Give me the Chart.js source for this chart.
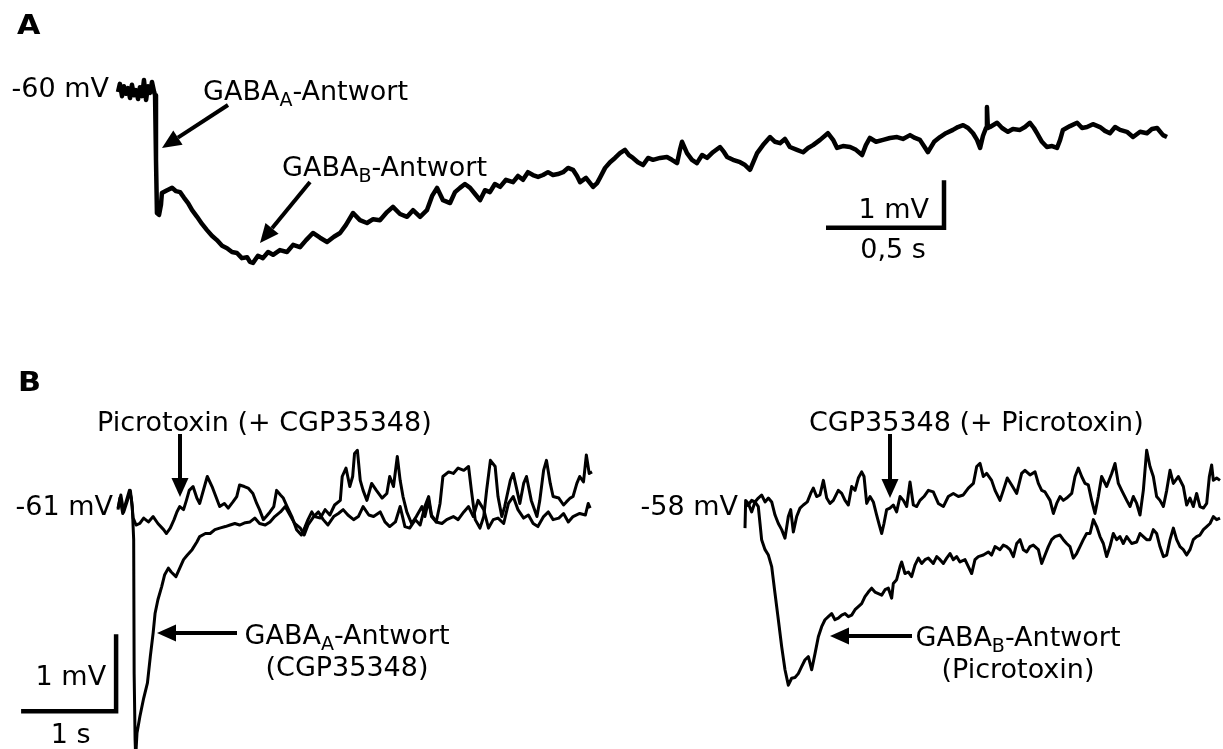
<!DOCTYPE html>
<html>
<head>
<meta charset="utf-8">
<script src="https://cdn.jsdelivr.net/npm/chart.js@4.4.1/dist/chart.umd.min.js"></script>
<style>
  html, body { margin: 0; padding: 0; background: #fff; overflow: hidden; }
  #wrap { position: relative; width: 1223px; height: 749px; }
</style>
</head>
<body>
<div id="wrap"><canvas id="traces" width="1223" height="749"></canvas></div>
<script>
// Membranpotential-Spuren: [Zeit in s, Potential in mV]

// A: GABA-Antwort ohne Blocker
var traceA = [
  [0,-60.04],[0.008,-59.87],[0.017,-60.13],[0.025,-59.92],[0.034,-60.08],[0.042,-59.96],[0.051,-60.17],[0.059,-59.89],
  [0.068,-60.11],[0.076,-60.00],[0.085,-60.19],[0.093,-59.94],[0.102,-60.13],[0.110,-59.79],[0.119,-60.21],[0.127,-59.92],
  [0.136,-60.06],[0.144,-59.83],[0.153,-60.04],[0.157,-60.11],[0.161,-61.47],[0.165,-62.59],[0.174,-62.63],[0.182,-62.42],
  [0.186,-62.17],[0.208,-62.11],[0.229,-62.06],[0.246,-62.13],[0.263,-62.15],[0.280,-62.27],[0.297,-62.38],[0.314,-62.53],
  [0.335,-62.67],[0.356,-62.82],[0.377,-62.95],[0.398,-63.07],[0.419,-63.16],[0.441,-63.28],[0.462,-63.33],[0.483,-63.41],
  [0.504,-63.43],[0.525,-63.54],[0.547,-63.52],[0.559,-63.62],[0.572,-63.64],[0.593,-63.49],[0.614,-63.54],[0.636,-63.41],
  [0.657,-63.47],[0.686,-63.37],[0.716,-63.41],[0.742,-63.26],[0.771,-63.31],[0.797,-63.16],[0.826,-63.01],[0.856,-63.11],
  [0.886,-63.20],[0.915,-63.09],[0.941,-63.01],[0.966,-62.84],[0.996,-62.59],[1.025,-62.74],[1.055,-62.80],[1.081,-62.72],
  [1.110,-62.74],[1.140,-62.57],[1.165,-62.46],[1.195,-62.61],[1.225,-62.67],[1.250,-62.53],[1.280,-62.67],[1.309,-62.53],
  [1.331,-62.23],[1.352,-62.06],[1.377,-62.32],[1.407,-62.38],[1.428,-62.15],[1.449,-62.06],[1.470,-61.98],[1.492,-62.06],
  [1.513,-62.19],[1.534,-62.32],[1.555,-62.11],[1.576,-62.15],[1.597,-61.98],[1.619,-62.04],[1.644,-61.89],[1.674,-61.94],
  [1.695,-61.81],[1.716,-61.89],[1.737,-61.73],[1.758,-61.79],[1.780,-61.83],[1.801,-61.79],[1.822,-61.73],[1.843,-61.79],
  [1.864,-61.77],[1.886,-61.73],[1.907,-61.64],[1.928,-61.68],[1.945,-61.81],[1.958,-61.94],[1.983,-61.85],[2.013,-62.04],
  [2.030,-61.96],[2.042,-61.85],[2.064,-61.64],[2.085,-61.52],[2.106,-61.43],[2.127,-61.33],[2.148,-61.26],[2.165,-61.37],
  [2.182,-61.43],[2.203,-61.52],[2.225,-61.58],[2.246,-61.43],[2.267,-61.47],[2.297,-61.43],[2.326,-61.41],[2.347,-61.47],
  [2.369,-61.54],[2.381,-61.26],[2.390,-61.09],[2.411,-61.33],[2.432,-61.47],[2.453,-61.54],[2.475,-61.37],[2.496,-61.43],
  [2.521,-61.31],[2.551,-61.20],[2.568,-61.31],[2.581,-61.41],[2.606,-61.47],[2.636,-61.52],[2.657,-61.58],[2.678,-61.68],
  [2.708,-61.33],[2.733,-61.16],[2.763,-60.99],[2.784,-61.09],[2.805,-61.12],[2.826,-61.03],[2.847,-61.20],[2.877,-61.26],
  [2.903,-61.31],[2.924,-61.22],[2.945,-61.16],[2.975,-61.05],[3.008,-60.91],[3.030,-61.05],[3.047,-61.22],[3.072,-61.18],
  [3.102,-61.20],[3.127,-61.26],[3.153,-61.37],[3.169,-61.16],[3.186,-61.01],[3.212,-61.09],[3.242,-61.05],[3.271,-61.01],
  [3.301,-60.99],[3.326,-61.03],[3.356,-60.95],[3.377,-61.01],[3.398,-61.05],[3.415,-61.18],[3.432,-61.31],[3.458,-61.09],
  [3.483,-60.99],[3.508,-60.91],[3.538,-60.84],[3.559,-60.78],[3.581,-60.74],[3.602,-60.80],[3.623,-60.91],[3.640,-61.05],
  [3.653,-61.22],[3.665,-60.97],[3.678,-60.80],[3.682,-60.36],[3.686,-60.80],[3.695,-60.78],[3.725,-60.69],[3.746,-60.80],
  [3.771,-60.88],[3.792,-60.82],[3.822,-60.84],[3.843,-60.78],[3.864,-60.69],[3.881,-60.80],[3.894,-60.91],[3.915,-61.09],
  [3.936,-61.20],[3.958,-61.18],[3.979,-61.22],[3.992,-61.05],[4.004,-60.84],[4.034,-60.76],[4.064,-60.69],[4.085,-60.80],
  [4.106,-60.78],[4.131,-60.72],[4.161,-60.78],[4.182,-60.86],[4.203,-60.91],[4.225,-60.78],[4.246,-60.84],[4.275,-60.88],
  [4.301,-60.99],[4.331,-60.88],[4.360,-60.91],[4.381,-60.82],[4.403,-60.80],[4.428,-60.95],[4.445,-60.99]
];

// B links: Picrotoxin (+ CGP35348)
var tracePicro = [
  [0.00,-61.06],[0.02,-60.91],[0.05,-61.11],[0.08,-60.98],[0.12,-60.81],[0.14,-60.91],[0.16,-61.17],[0.19,-61.26],
  [0.23,-61.24],[0.27,-61.17],[0.32,-61.22],[0.37,-61.15],[0.42,-61.24],[0.48,-61.32],[0.51,-61.37],[0.55,-61.30],
  [0.59,-61.19],[0.62,-61.09],[0.65,-61.02],[0.69,-61.06],[0.72,-60.94],[0.75,-60.81],[0.79,-60.76],[0.83,-60.91],
  [0.86,-60.98],[0.91,-60.76],[0.94,-60.63],[0.99,-60.76],[1.03,-60.89],[1.07,-61.02],[1.12,-60.98],[1.16,-61.04],
  [1.21,-60.96],[1.25,-60.89],[1.28,-60.74],[1.33,-60.76],[1.37,-60.78],[1.42,-60.85],[1.46,-60.98],[1.49,-61.06],
  [1.53,-61.19],[1.56,-61.15],[1.60,-61.09],[1.64,-61.02],[1.67,-60.81],[1.71,-60.87],[1.74,-60.91],[1.78,-61.02],
  [1.83,-61.15],[1.88,-61.32],[1.93,-61.39],[1.97,-61.28],[2.00,-61.19],[2.04,-61.09],[2.07,-61.15],[2.13,-61.17],
  [2.18,-61.06],[2.23,-61.13],[2.28,-61.00],[2.34,-60.94],[2.36,-60.63],[2.40,-60.52],[2.44,-60.76],[2.47,-60.63],
  [2.49,-60.33],[2.52,-60.29],[2.55,-60.68],[2.58,-60.81],[2.62,-60.94],[2.67,-60.72],[2.72,-60.81],[2.78,-60.91],
  [2.83,-60.85],[2.86,-60.63],[2.90,-60.76],[2.94,-60.37],[2.97,-60.68],[3.00,-60.89],[3.04,-61.09],[3.09,-61.24],
  [3.14,-61.15],[3.20,-61.02],[3.23,-61.15],[3.27,-60.94],[3.30,-61.15],[3.35,-61.22],[3.39,-60.98],[3.42,-60.63],
  [3.48,-60.57],[3.53,-60.59],[3.58,-60.52],[3.64,-60.55],[3.69,-60.50],[3.72,-60.81],[3.76,-61.19],[3.81,-61.30],
  [3.85,-61.15],[3.88,-60.81],[3.92,-60.42],[3.97,-60.50],[4.00,-60.89],[4.04,-61.15],[4.07,-61.02],[4.13,-60.68],
  [4.16,-60.59],[4.20,-60.81],[4.23,-60.98],[4.27,-60.72],[4.30,-60.63],[4.35,-60.94],[4.41,-61.15],[4.44,-60.94],
  [4.48,-60.55],[4.51,-60.42],[4.55,-60.72],[4.58,-60.89],[4.64,-60.91],[4.69,-61.00],[4.72,-60.96],[4.76,-60.91],
  [4.79,-60.89],[4.83,-60.72],[4.86,-60.63],[4.90,-60.70],[4.93,-60.35],[4.96,-60.59],[4.99,-60.57]
];

// B links: GABA_A-Antwort (CGP35348)
var traceGabaA = [
  [0.00,-61.04],[0.03,-60.87],[0.06,-61.09],[0.10,-60.94],[0.13,-60.81],[0.15,-61.02],[0.165,-61.45],[0.17,-63.19],
  [0.18,-64.05],[0.186,-64.27],[0.20,-63.96],[0.23,-63.75],[0.27,-63.51],[0.31,-63.31],[0.34,-62.97],[0.37,-62.66],
  [0.39,-62.41],[0.42,-62.23],[0.46,-62.06],[0.49,-61.91],[0.53,-61.82],[0.56,-61.87],[0.61,-61.93],[0.65,-61.82],
  [0.69,-61.71],[0.73,-61.65],[0.78,-61.58],[0.83,-61.48],[0.86,-61.41],[0.92,-61.37],[0.97,-61.37],[1.02,-61.32],
  [1.07,-61.30],[1.13,-61.28],[1.18,-61.26],[1.23,-61.24],[1.28,-61.26],[1.34,-61.23],[1.39,-61.22],[1.44,-61.17],
  [1.49,-61.24],[1.55,-61.26],[1.60,-61.22],[1.65,-61.15],[1.71,-61.09],[1.76,-61.02],[1.81,-61.13],[1.86,-61.24],
  [1.92,-61.30],[1.96,-61.39],[2.00,-61.26],[2.06,-61.15],[2.11,-61.09],[2.16,-61.19],[2.21,-61.26],[2.27,-61.15],
  [2.32,-61.11],[2.37,-61.06],[2.42,-61.13],[2.48,-61.19],[2.53,-61.15],[2.58,-61.02],[2.64,-61.13],[2.69,-61.15],
  [2.76,-61.09],[2.81,-61.22],[2.86,-61.28],[2.92,-61.22],[2.97,-61.02],[3.02,-61.28],[3.07,-61.30],[3.13,-61.19],
  [3.18,-61.26],[3.23,-61.02],[3.27,-60.89],[3.30,-61.13],[3.35,-61.22],[3.41,-61.24],[3.46,-61.19],[3.53,-61.15],
  [3.58,-61.19],[3.64,-61.09],[3.69,-61.02],[3.74,-61.15],[3.79,-60.94],[3.85,-61.06],[3.90,-61.30],[3.95,-61.19],
  [4.00,-61.17],[4.06,-61.24],[4.11,-60.98],[4.16,-60.89],[4.21,-61.06],[4.27,-61.17],[4.32,-61.13],[4.37,-61.24],
  [4.42,-61.28],[4.48,-61.15],[4.53,-61.09],[4.58,-61.19],[4.64,-61.17],[4.69,-61.11],[4.74,-61.22],[4.79,-61.15],
  [4.86,-61.11],[4.92,-61.13],[4.95,-60.98],[4.97,-61.04]
];

// B rechts: CGP35348 (+ Picrotoxin)
var traceCgp = [
  [0.000,-58.30],[0.007,-57.94],[0.035,-57.98],[0.070,-58.09],[0.105,-57.96],[0.140,-57.91],[0.175,-57.87],[0.211,-57.96],
  [0.246,-57.91],[0.281,-57.96],[0.316,-58.13],[0.351,-58.24],[0.386,-58.32],[0.421,-58.43],[0.456,-58.15],[0.481,-58.06],
  [0.509,-58.35],[0.544,-58.15],[0.579,-58.04],[0.614,-58.00],[0.656,-57.96],[0.691,-57.85],[0.719,-57.78],[0.754,-57.89],
  [0.789,-57.87],[0.825,-57.68],[0.860,-57.91],[0.895,-57.98],[0.930,-57.94],[0.982,-57.81],[1.018,-57.85],[1.053,-57.94],
  [1.088,-58.00],[1.123,-57.76],[1.158,-57.81],[1.193,-57.65],[1.228,-57.57],[1.253,-57.63],[1.281,-57.98],[1.316,-57.89],
  [1.351,-57.96],[1.386,-58.13],[1.414,-58.26],[1.439,-58.37],[1.463,-58.24],[1.491,-58.06],[1.526,-58.04],[1.561,-58.00],
  [1.596,-58.09],[1.632,-57.89],[1.667,-57.94],[1.702,-58.02],[1.737,-57.70],[1.772,-58.00],[1.807,-58.02],[1.842,-57.94],
  [1.884,-57.89],[1.930,-57.81],[1.982,-57.83],[2.035,-57.98],[2.088,-58.02],[2.140,-57.89],[2.193,-57.85],[2.246,-57.89],
  [2.298,-57.87],[2.351,-57.78],[2.404,-57.72],[2.439,-57.50],[2.474,-57.46],[2.509,-57.63],[2.544,-57.59],[2.596,-57.68],
  [2.632,-57.81],[2.684,-57.94],[2.719,-57.81],[2.761,-57.65],[2.807,-57.74],[2.860,-57.85],[2.912,-57.59],[2.947,-57.55],
  [3.000,-57.61],[3.053,-57.57],[3.088,-57.72],[3.123,-57.81],[3.158,-57.83],[3.211,-57.94],[3.246,-58.11],[3.281,-57.98],
  [3.316,-57.89],[3.351,-57.94],[3.386,-57.91],[3.439,-57.85],[3.474,-57.63],[3.509,-57.52],[3.544,-57.63],[3.579,-57.72],
  [3.614,-57.74],[3.649,-57.94],[3.684,-58.11],[3.719,-57.89],[3.754,-57.63],[3.807,-57.76],[3.860,-57.59],[3.895,-57.46],
  [3.930,-57.72],[3.965,-57.81],[4.018,-57.94],[4.053,-58.02],[4.088,-57.89],[4.123,-57.98],[4.158,-58.13],[4.193,-57.81],
  [4.228,-57.29],[4.263,-57.50],[4.298,-57.63],[4.333,-57.89],[4.368,-57.94],[4.404,-58.02],[4.439,-57.81],[4.474,-57.55],
  [4.509,-57.72],[4.561,-57.63],[4.614,-57.76],[4.649,-58.00],[4.684,-57.91],[4.719,-58.02],[4.754,-57.85],[4.789,-58.02],
  [4.825,-58.04],[4.860,-57.98],[4.888,-57.63],[4.912,-57.48],[4.930,-57.68],[4.965,-57.65],[5.000,-57.68]
];

// B rechts: GABA_B-Antwort (Picrotoxin)
var traceGabaB = [
  [0.000,-58.02],[0.035,-58.00],[0.070,-57.94],[0.105,-57.96],[0.140,-58.02],[0.158,-58.24],[0.175,-58.45],[0.211,-58.58],
  [0.246,-58.65],[0.281,-58.80],[0.316,-59.15],[0.351,-59.49],[0.386,-59.84],[0.421,-60.14],[0.456,-60.34],[0.491,-60.25],
  [0.526,-60.24],[0.561,-60.19],[0.596,-60.10],[0.632,-60.01],[0.667,-59.97],[0.702,-60.14],[0.737,-59.93],[0.772,-59.71],
  [0.807,-59.58],[0.842,-59.49],[0.877,-59.45],[0.912,-59.41],[0.947,-59.49],[0.982,-59.47],[1.018,-59.43],[1.053,-59.41],
  [1.088,-59.45],[1.123,-59.43],[1.158,-59.36],[1.193,-59.32],[1.228,-59.28],[1.263,-59.19],[1.298,-59.13],[1.333,-59.08],
  [1.368,-59.13],[1.404,-59.15],[1.439,-59.17],[1.474,-59.10],[1.509,-59.08],[1.544,-59.21],[1.561,-59.02],[1.596,-58.97],
  [1.632,-58.80],[1.649,-58.74],[1.684,-58.89],[1.719,-58.87],[1.754,-58.93],[1.789,-58.78],[1.825,-58.69],[1.860,-58.76],
  [1.895,-58.71],[1.930,-58.69],[1.982,-58.76],[2.018,-58.67],[2.053,-58.71],[2.088,-58.76],[2.123,-58.69],[2.158,-58.63],
  [2.193,-58.71],[2.228,-58.67],[2.263,-58.74],[2.316,-58.71],[2.351,-58.80],[2.386,-58.89],[2.421,-58.71],[2.456,-58.67],
  [2.509,-58.65],[2.561,-58.61],[2.596,-58.65],[2.632,-58.54],[2.684,-58.58],[2.719,-58.52],[2.754,-58.54],[2.789,-58.58],
  [2.825,-58.67],[2.860,-58.50],[2.895,-58.45],[2.930,-58.58],[2.965,-58.61],[3.000,-58.54],[3.035,-58.52],[3.088,-58.58],
  [3.123,-58.76],[3.158,-58.65],[3.193,-58.54],[3.228,-58.45],[3.263,-58.41],[3.316,-58.39],[3.351,-58.45],[3.386,-58.50],
  [3.421,-58.54],[3.456,-58.69],[3.491,-58.63],[3.526,-58.54],[3.561,-58.45],[3.596,-58.37],[3.632,-58.37],[3.667,-58.19],
  [3.702,-58.28],[3.737,-58.41],[3.772,-58.50],[3.807,-58.67],[3.842,-58.54],[3.877,-58.37],[3.912,-58.45],[3.947,-58.41],
  [3.982,-58.50],[4.018,-58.41],[4.070,-58.50],[4.123,-58.48],[4.158,-58.37],[4.193,-58.41],[4.228,-58.45],[4.263,-58.45],
  [4.298,-58.32],[4.333,-58.37],[4.368,-58.54],[4.404,-58.67],[4.439,-58.65],[4.474,-58.45],[4.509,-58.30],[4.544,-58.45],
  [4.579,-58.54],[4.614,-58.58],[4.649,-58.65],[4.684,-58.58],[4.719,-58.45],[4.754,-58.41],[4.789,-58.39],[4.825,-58.32],
  [4.860,-58.28],[4.895,-58.24],[4.930,-58.15],[4.965,-58.19],[5.000,-58.17]
];

var FONT = '"DejaVu Sans", Verdana, sans-serif';

function trace(points, xId, yId, width) {
  return {
    data: points.map(function (p) { return { x: p[0], y: p[1] }; }),
    xAxisID: xId,
    yAxisID: yId,
    showLine: true,
    borderColor: '#000',
    borderWidth: width,
    borderJoinStyle: 'round',
    pointRadius: 0,
    fill: false,
    tension: 0
  };
}

function hidden(axis, min, max) {
  return { type: 'linear', axis: axis, display: false, min: min, max: max };
}

// Text mit tiefgestelltem Teil, parts = [[text, tief?], ...]
function subText(ctx, parts, x, cy, align) {
  var big = '27px ' + FONT, small = '19px ' + FONT, w = 0;
  parts.forEach(function (p) { ctx.font = p[1] ? small : big; w += ctx.measureText(p[0]).width; });
  var cx = align === 'center' ? x - w / 2 : (align === 'right' ? x - w : x);
  var base = cy + 10;
  ctx.textAlign = 'left';
  ctx.textBaseline = 'alphabetic';
  parts.forEach(function (p) {
    ctx.font = p[1] ? small : big;
    ctx.fillText(p[0], cx, p[1] ? base + 6 : base);
    cx += ctx.measureText(p[0]).width;
  });
}

function text(ctx, s, x, cy, align) {
  subText(ctx, [[s, false]], x, cy, align);
}

function arrow(ctx, x1, y1, x2, y2) {
  var a = Math.atan2(y2 - y1, x2 - x1), len = 19, hw = 8.5;
  var bx = x2 - len * Math.cos(a), by = y2 - len * Math.sin(a);
  ctx.lineWidth = 4;
  ctx.lineCap = 'butt';
  ctx.beginPath();
  ctx.moveTo(x1, y1);
  ctx.lineTo(bx, by);
  ctx.stroke();
  ctx.beginPath();
  ctx.moveTo(x2, y2);
  ctx.lineTo(bx - hw * Math.sin(a), by + hw * Math.cos(a));
  ctx.lineTo(bx + hw * Math.sin(a), by - hw * Math.cos(a));
  ctx.closePath();
  ctx.fill();
}

// Eichbalken: Ecke bei (t, v), nach links dt Sekunden, nach oben dv mV
function scaleBar(ctx, xs, ys, t, v, dt, dv) {
  var xL = xs.getPixelForValue(t - dt), xR = xs.getPixelForValue(t);
  var yB = ys.getPixelForValue(v), yT = ys.getPixelForValue(v + dv);
  ctx.lineWidth = 4.5;
  ctx.lineCap = 'butt';
  ctx.lineJoin = 'miter';
  ctx.beginPath();
  ctx.moveTo(xL, yB);
  ctx.lineTo(xR, yB);
  ctx.lineTo(xR, yT);
  ctx.stroke();
  return { xL: xL, xR: xR, yB: yB, yT: yT };
}

function panelLetter(ctx, s, x, base) {
  ctx.save();
  ctx.font = 'bold 27px ' + FONT;
  ctx.textAlign = 'left';
  ctx.textBaseline = 'alphabetic';
  ctx.translate(x, base);
  ctx.scale(1.12, 1);
  ctx.fillText(s, 0, 0);
  ctx.restore();
}

var labels = {
  id: 'labels',
  afterDraw: function (chart) {
    var ctx = chart.ctx, s = chart.scales;
    ctx.save();
    ctx.fillStyle = '#000';
    ctx.strokeStyle = '#000';

    panelLetter(ctx, 'A', 17, 34);
    panelLetter(ctx, 'B', 18, 391);

    // A
    text(ctx, '-60 mV', 109, 87, 'right');
    subText(ctx, [['GABA', false], ['A', true], ['-Antwort', false]], 203, 90, 'left');
    subText(ctx, [['GABA', false], ['B', true], ['-Antwort', false]], 282, 166, 'left');
    arrow(ctx, 228, 105, 162, 148);
    arrow(ctx, 310, 182, 260, 243);
    var barA = scaleBar(ctx, s.xA, s.yA, 3.5, -62.9, 0.5, 1);
    text(ctx, '1 mV', barA.xR - 15, barA.yB - 20, 'right');
    text(ctx, '0,5 s', (barA.xL + barA.xR) / 2 + 8, barA.yB + 20, 'center');

    // B links
    text(ctx, 'Picrotoxin (+ CGP35348)', 97, 421, 'left');
    arrow(ctx, 180, 434, 180, 497);
    text(ctx, '-61 mV', 113, 505, 'right');
    subText(ctx, [['GABA', false], ['A', true], ['-Antwort', false]], 347, 634, 'center');
    text(ctx, '(CGP35348)', 347, 666, 'center');
    arrow(ctx, 237, 633, 157, 633);
    var barB = scaleBar(ctx, s.xBL, s.yBL, -0.02, -63.68, 1, 1);
    text(ctx, '1 mV', barB.xR - 10, (barB.yB + barB.yT) / 2 + 2, 'right');
    text(ctx, '1 s', (barB.xL + barB.xR) / 2 + 2, barB.yB + 22, 'center');

    // B rechts
    text(ctx, 'CGP35348 (+ Picrotoxin)', 809, 421, 'left');
    arrow(ctx, 890, 434, 890, 498);
    text(ctx, '-58 mV', 738, 505, 'right');
    subText(ctx, [['GABA', false], ['B', true], ['-Antwort', false]], 1018, 636, 'center');
    text(ctx, '(Picrotoxin)', 1018, 668, 'center');
    arrow(ctx, 912, 636, 830, 636);

    ctx.restore();
  }
};

new Chart(document.getElementById('traces'), {
  type: 'scatter',
  data: {
    datasets: [
      trace(traceA, 'xA', 'yA', 4.5),
      trace(tracePicro, 'xBL', 'yBL', 3),
      trace(traceGabaA, 'xBL', 'yBL', 3),
      trace(traceCgp, 'xBR', 'yBR', 3),
      trace(traceGabaB, 'xBR', 'yBR', 3)
    ]
  },
  options: {
    responsive: false,
    animation: false,
    events: [],
    layout: { padding: 0 },
    plugins: { legend: { display: false }, tooltip: { enabled: false } },
    scales: {
      xA: hidden('x', -0.5, 4.6822),
      yA: hidden('y', -73.8737, -58.1053),
      xBL: hidden('x', -1.2421, 11.6316),
      yBL: hidden('y', -64.1688, -54.4416),
      xBR: hidden('x', -7.8421, 5.0316),
      yBR: hidden('y', -61.1688, -51.4416)
    }
  },
  plugins: [labels]
});
</script>
</body>
</html>
